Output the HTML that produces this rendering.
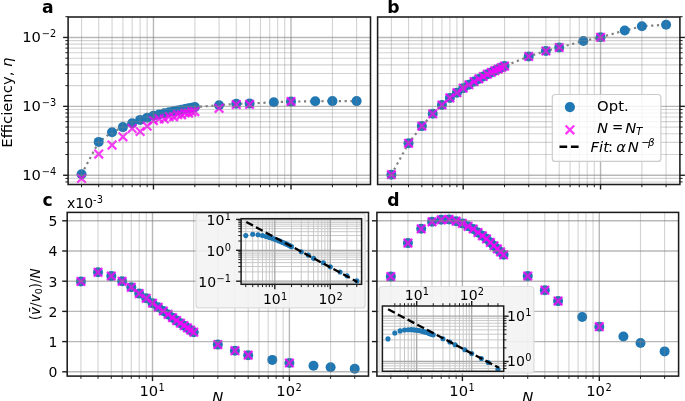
<!DOCTYPE html>
<html><head><meta charset="utf-8"><title>Figure</title>
<style>html,body{margin:0;padding:0;background:#fff}svg{display:block;filter:blur(0.35px)}</style></head>
<body>
<svg width="685" height="401" viewBox="0 0 685 401" font-family="'DejaVu Sans','Liberation Sans',sans-serif" fill="#000">
<rect width="685" height="401" fill="#fff"/>
<clipPath id="cla"><rect x="68.1" y="17.0" width="302.4" height="167.5"/></clipPath>
<g clip-path="url(#cla)">
<path d="M81.53 174.30L98.71 141.90L112.04 132.30L122.93 127.10L132.14 123.30L140.12 119.90L147.16 117.70L153.45 115.70L159.14 114.45L164.34 113.30L169.12 112.26L173.55 111.30L177.67 110.40L181.53 109.66L185.15 108.96L188.56 108.31L191.79 107.69L194.86 107.10L219.08 105.20L236.26 103.80L249.59 103.60L273.81 102.20L291.00 101.60L315.22 101.30L332.41 101.10L356.63 101.10" fill="none" stroke="#808080" stroke-width="2.2" stroke-dasharray="2.2 3.6"/>
<circle cx="81.53" cy="174.30" r="5.0" fill="#1f77b4"/>
<circle cx="98.71" cy="141.90" r="5.0" fill="#1f77b4"/>
<circle cx="112.04" cy="132.30" r="5.0" fill="#1f77b4"/>
<circle cx="122.93" cy="127.10" r="5.0" fill="#1f77b4"/>
<circle cx="132.14" cy="123.30" r="5.0" fill="#1f77b4"/>
<circle cx="140.12" cy="119.90" r="5.0" fill="#1f77b4"/>
<circle cx="147.16" cy="117.70" r="5.0" fill="#1f77b4"/>
<circle cx="153.45" cy="115.70" r="5.0" fill="#1f77b4"/>
<circle cx="159.14" cy="114.45" r="5.0" fill="#1f77b4"/>
<circle cx="164.34" cy="113.30" r="5.0" fill="#1f77b4"/>
<circle cx="169.12" cy="112.26" r="5.0" fill="#1f77b4"/>
<circle cx="173.55" cy="111.30" r="5.0" fill="#1f77b4"/>
<circle cx="177.67" cy="110.40" r="5.0" fill="#1f77b4"/>
<circle cx="181.53" cy="109.66" r="5.0" fill="#1f77b4"/>
<circle cx="185.15" cy="108.96" r="5.0" fill="#1f77b4"/>
<circle cx="188.56" cy="108.31" r="5.0" fill="#1f77b4"/>
<circle cx="191.79" cy="107.69" r="5.0" fill="#1f77b4"/>
<circle cx="194.86" cy="107.10" r="5.0" fill="#1f77b4"/>
<circle cx="219.08" cy="105.20" r="5.0" fill="#1f77b4"/>
<circle cx="236.26" cy="103.80" r="5.0" fill="#1f77b4"/>
<circle cx="249.59" cy="103.60" r="5.0" fill="#1f77b4"/>
<circle cx="273.81" cy="102.20" r="5.0" fill="#1f77b4"/>
<circle cx="291.00" cy="101.60" r="5.0" fill="#1f77b4"/>
<circle cx="315.22" cy="101.30" r="5.0" fill="#1f77b4"/>
<circle cx="332.41" cy="101.10" r="5.0" fill="#1f77b4"/>
<circle cx="356.63" cy="101.10" r="5.0" fill="#1f77b4"/>
<path d="M77.23 174.20L85.83 182.80M77.23 182.80L85.83 174.20" stroke="#ff00ff" stroke-width="2.3" stroke-opacity="0.78" fill="none"/>
<path d="M94.41 149.80L103.01 158.40M94.41 158.40L103.01 149.80" stroke="#ff00ff" stroke-width="2.3" stroke-opacity="0.78" fill="none"/>
<path d="M107.74 140.80L116.34 149.40M107.74 149.40L116.34 140.80" stroke="#ff00ff" stroke-width="2.3" stroke-opacity="0.78" fill="none"/>
<path d="M118.63 132.50L127.23 141.10M118.63 141.10L127.23 132.50" stroke="#ff00ff" stroke-width="2.3" stroke-opacity="0.78" fill="none"/>
<path d="M127.84 124.20L136.44 132.80M127.84 132.80L136.44 124.20" stroke="#ff00ff" stroke-width="2.3" stroke-opacity="0.78" fill="none"/>
<path d="M135.82 127.20L144.42 135.80M135.82 135.80L144.42 127.20" stroke="#ff00ff" stroke-width="2.3" stroke-opacity="0.78" fill="none"/>
<path d="M142.86 121.90L151.46 130.50M142.86 130.50L151.46 121.90" stroke="#ff00ff" stroke-width="2.3" stroke-opacity="0.78" fill="none"/>
<path d="M149.15 116.30L157.75 124.90M149.15 124.90L157.75 116.30" stroke="#ff00ff" stroke-width="2.3" stroke-opacity="0.78" fill="none"/>
<path d="M154.84 114.50L163.44 123.10M154.84 123.10L163.44 114.50" stroke="#ff00ff" stroke-width="2.3" stroke-opacity="0.78" fill="none"/>
<path d="M160.04 114.70L168.64 123.30M160.04 123.30L168.64 114.70" stroke="#ff00ff" stroke-width="2.3" stroke-opacity="0.78" fill="none"/>
<path d="M164.82 112.30L173.42 120.90M164.82 120.90L173.42 112.30" stroke="#ff00ff" stroke-width="2.3" stroke-opacity="0.78" fill="none"/>
<path d="M169.25 112.50L177.85 121.10M169.25 121.10L177.85 112.50" stroke="#ff00ff" stroke-width="2.3" stroke-opacity="0.78" fill="none"/>
<path d="M173.37 110.30L181.97 118.90M173.37 118.90L181.97 110.30" stroke="#ff00ff" stroke-width="2.3" stroke-opacity="0.78" fill="none"/>
<path d="M177.23 110.50L185.83 119.10M177.23 119.10L185.83 110.50" stroke="#ff00ff" stroke-width="2.3" stroke-opacity="0.78" fill="none"/>
<path d="M180.85 108.70L189.45 117.30M180.85 117.30L189.45 108.70" stroke="#ff00ff" stroke-width="2.3" stroke-opacity="0.78" fill="none"/>
<path d="M184.26 108.90L192.86 117.50M184.26 117.50L192.86 108.90" stroke="#ff00ff" stroke-width="2.3" stroke-opacity="0.78" fill="none"/>
<path d="M187.49 107.50L196.09 116.10M187.49 116.10L196.09 107.50" stroke="#ff00ff" stroke-width="2.3" stroke-opacity="0.78" fill="none"/>
<path d="M190.56 107.30L199.16 115.90M190.56 115.90L199.16 107.30" stroke="#ff00ff" stroke-width="2.3" stroke-opacity="0.78" fill="none"/>
<path d="M214.78 104.00L223.38 112.60M214.78 112.60L223.38 104.00" stroke="#ff00ff" stroke-width="2.3" stroke-opacity="0.78" fill="none"/>
<path d="M231.96 100.30L240.56 108.90M231.96 108.90L240.56 100.30" stroke="#ff00ff" stroke-width="2.3" stroke-opacity="0.78" fill="none"/>
<path d="M245.29 100.10L253.89 108.70M245.29 108.70L253.89 100.10" stroke="#ff00ff" stroke-width="2.3" stroke-opacity="0.78" fill="none"/>
<path d="M286.70 97.30L295.30 105.90M286.70 105.90L295.30 97.30" stroke="#ff00ff" stroke-width="2.3" stroke-opacity="0.78" fill="none"/>
<line x1="81.53" y1="17.00" x2="81.53" y2="184.50" stroke="#808080" stroke-opacity="0.35" stroke-width="1.1" />
<line x1="98.71" y1="17.00" x2="98.71" y2="184.50" stroke="#808080" stroke-opacity="0.35" stroke-width="1.1" />
<line x1="112.04" y1="17.00" x2="112.04" y2="184.50" stroke="#808080" stroke-opacity="0.35" stroke-width="1.1" />
<line x1="122.93" y1="17.00" x2="122.93" y2="184.50" stroke="#808080" stroke-opacity="0.35" stroke-width="1.1" />
<line x1="132.14" y1="17.00" x2="132.14" y2="184.50" stroke="#808080" stroke-opacity="0.35" stroke-width="1.1" />
<line x1="140.12" y1="17.00" x2="140.12" y2="184.50" stroke="#808080" stroke-opacity="0.35" stroke-width="1.1" />
<line x1="147.16" y1="17.00" x2="147.16" y2="184.50" stroke="#808080" stroke-opacity="0.35" stroke-width="1.1" />
<line x1="194.86" y1="17.00" x2="194.86" y2="184.50" stroke="#808080" stroke-opacity="0.35" stroke-width="1.1" />
<line x1="219.08" y1="17.00" x2="219.08" y2="184.50" stroke="#808080" stroke-opacity="0.35" stroke-width="1.1" />
<line x1="236.26" y1="17.00" x2="236.26" y2="184.50" stroke="#808080" stroke-opacity="0.35" stroke-width="1.1" />
<line x1="249.59" y1="17.00" x2="249.59" y2="184.50" stroke="#808080" stroke-opacity="0.35" stroke-width="1.1" />
<line x1="260.48" y1="17.00" x2="260.48" y2="184.50" stroke="#808080" stroke-opacity="0.35" stroke-width="1.1" />
<line x1="269.69" y1="17.00" x2="269.69" y2="184.50" stroke="#808080" stroke-opacity="0.35" stroke-width="1.1" />
<line x1="277.67" y1="17.00" x2="277.67" y2="184.50" stroke="#808080" stroke-opacity="0.35" stroke-width="1.1" />
<line x1="284.71" y1="17.00" x2="284.71" y2="184.50" stroke="#808080" stroke-opacity="0.35" stroke-width="1.1" />
<line x1="332.41" y1="17.00" x2="332.41" y2="184.50" stroke="#808080" stroke-opacity="0.35" stroke-width="1.1" />
<line x1="356.63" y1="17.00" x2="356.63" y2="184.50" stroke="#808080" stroke-opacity="0.35" stroke-width="1.1" />
<line x1="153.45" y1="17.00" x2="153.45" y2="184.50" stroke="#808080" stroke-opacity="0.56" stroke-width="1.4" />
<line x1="291.00" y1="17.00" x2="291.00" y2="184.50" stroke="#808080" stroke-opacity="0.56" stroke-width="1.4" />
<line x1="68.10" y1="181.93" x2="370.50" y2="181.93" stroke="#808080" stroke-opacity="0.35" stroke-width="1.1" />
<line x1="68.10" y1="178.40" x2="370.50" y2="178.40" stroke="#808080" stroke-opacity="0.35" stroke-width="1.1" />
<line x1="68.10" y1="154.51" x2="370.50" y2="154.51" stroke="#808080" stroke-opacity="0.35" stroke-width="1.1" />
<line x1="68.10" y1="142.38" x2="370.50" y2="142.38" stroke="#808080" stroke-opacity="0.35" stroke-width="1.1" />
<line x1="68.10" y1="133.77" x2="370.50" y2="133.77" stroke="#808080" stroke-opacity="0.35" stroke-width="1.1" />
<line x1="68.10" y1="127.09" x2="370.50" y2="127.09" stroke="#808080" stroke-opacity="0.35" stroke-width="1.1" />
<line x1="68.10" y1="121.64" x2="370.50" y2="121.64" stroke="#808080" stroke-opacity="0.35" stroke-width="1.1" />
<line x1="68.10" y1="117.02" x2="370.50" y2="117.02" stroke="#808080" stroke-opacity="0.35" stroke-width="1.1" />
<line x1="68.10" y1="113.03" x2="370.50" y2="113.03" stroke="#808080" stroke-opacity="0.35" stroke-width="1.1" />
<line x1="68.10" y1="109.50" x2="370.50" y2="109.50" stroke="#808080" stroke-opacity="0.35" stroke-width="1.1" />
<line x1="68.10" y1="85.61" x2="370.50" y2="85.61" stroke="#808080" stroke-opacity="0.35" stroke-width="1.1" />
<line x1="68.10" y1="73.48" x2="370.50" y2="73.48" stroke="#808080" stroke-opacity="0.35" stroke-width="1.1" />
<line x1="68.10" y1="64.87" x2="370.50" y2="64.87" stroke="#808080" stroke-opacity="0.35" stroke-width="1.1" />
<line x1="68.10" y1="58.19" x2="370.50" y2="58.19" stroke="#808080" stroke-opacity="0.35" stroke-width="1.1" />
<line x1="68.10" y1="52.74" x2="370.50" y2="52.74" stroke="#808080" stroke-opacity="0.35" stroke-width="1.1" />
<line x1="68.10" y1="48.12" x2="370.50" y2="48.12" stroke="#808080" stroke-opacity="0.35" stroke-width="1.1" />
<line x1="68.10" y1="44.13" x2="370.50" y2="44.13" stroke="#808080" stroke-opacity="0.35" stroke-width="1.1" />
<line x1="68.10" y1="40.60" x2="370.50" y2="40.60" stroke="#808080" stroke-opacity="0.35" stroke-width="1.1" />
<line x1="68.10" y1="175.25" x2="370.50" y2="175.25" stroke="#808080" stroke-opacity="0.56" stroke-width="1.4" />
<line x1="68.10" y1="106.35" x2="370.50" y2="106.35" stroke="#808080" stroke-opacity="0.56" stroke-width="1.4" />
<line x1="68.10" y1="37.45" x2="370.50" y2="37.45" stroke="#808080" stroke-opacity="0.56" stroke-width="1.4" />
</g>
<clipPath id="clb"><rect x="377.6" y="17.0" width="302.29999999999995" height="167.5"/></clipPath>
<g clip-path="url(#clb)">
<path d="M391.38 174.70L408.54 143.30L421.85 126.10L432.73 113.80L441.92 105.00L449.89 97.90L456.92 92.70L463.20 88.20L468.89 84.75L474.08 81.60L478.85 78.95L483.27 76.49L487.39 74.20L491.24 72.38L494.85 70.68L498.26 69.07L501.49 67.54L504.55 66.10L528.73 56.40L545.89 51.00L559.20 47.50L583.39 41.00L600.55 37.30L624.74 30.50L641.90 26.30L666.08 24.70" fill="none" stroke="#808080" stroke-width="2.2" stroke-dasharray="2.2 3.6"/>
<circle cx="391.38" cy="174.70" r="5.0" fill="#1f77b4"/>
<circle cx="408.54" cy="143.30" r="5.0" fill="#1f77b4"/>
<circle cx="421.85" cy="126.10" r="5.0" fill="#1f77b4"/>
<circle cx="432.73" cy="113.80" r="5.0" fill="#1f77b4"/>
<circle cx="441.92" cy="105.00" r="5.0" fill="#1f77b4"/>
<circle cx="449.89" cy="97.90" r="5.0" fill="#1f77b4"/>
<circle cx="456.92" cy="92.70" r="5.0" fill="#1f77b4"/>
<circle cx="463.20" cy="88.20" r="5.0" fill="#1f77b4"/>
<circle cx="468.89" cy="84.75" r="5.0" fill="#1f77b4"/>
<circle cx="474.08" cy="81.60" r="5.0" fill="#1f77b4"/>
<circle cx="478.85" cy="78.95" r="5.0" fill="#1f77b4"/>
<circle cx="483.27" cy="76.49" r="5.0" fill="#1f77b4"/>
<circle cx="487.39" cy="74.20" r="5.0" fill="#1f77b4"/>
<circle cx="491.24" cy="72.38" r="5.0" fill="#1f77b4"/>
<circle cx="494.85" cy="70.68" r="5.0" fill="#1f77b4"/>
<circle cx="498.26" cy="69.07" r="5.0" fill="#1f77b4"/>
<circle cx="501.49" cy="67.54" r="5.0" fill="#1f77b4"/>
<circle cx="504.55" cy="66.10" r="5.0" fill="#1f77b4"/>
<circle cx="528.73" cy="56.40" r="5.0" fill="#1f77b4"/>
<circle cx="545.89" cy="51.00" r="5.0" fill="#1f77b4"/>
<circle cx="559.20" cy="47.50" r="5.0" fill="#1f77b4"/>
<circle cx="583.39" cy="41.00" r="5.0" fill="#1f77b4"/>
<circle cx="600.55" cy="37.30" r="5.0" fill="#1f77b4"/>
<circle cx="624.74" cy="30.50" r="5.0" fill="#1f77b4"/>
<circle cx="641.90" cy="26.30" r="5.0" fill="#1f77b4"/>
<circle cx="666.08" cy="24.70" r="5.0" fill="#1f77b4"/>
<path d="M387.08 170.40L395.68 179.00M387.08 179.00L395.68 170.40" stroke="#ff00ff" stroke-width="2.3" stroke-opacity="0.78" fill="none"/>
<path d="M404.24 139.00L412.84 147.60M404.24 147.60L412.84 139.00" stroke="#ff00ff" stroke-width="2.3" stroke-opacity="0.78" fill="none"/>
<path d="M417.55 121.80L426.15 130.40M417.55 130.40L426.15 121.80" stroke="#ff00ff" stroke-width="2.3" stroke-opacity="0.78" fill="none"/>
<path d="M428.43 109.50L437.03 118.10M428.43 118.10L437.03 109.50" stroke="#ff00ff" stroke-width="2.3" stroke-opacity="0.78" fill="none"/>
<path d="M437.62 100.70L446.22 109.30M437.62 109.30L446.22 100.70" stroke="#ff00ff" stroke-width="2.3" stroke-opacity="0.78" fill="none"/>
<path d="M445.59 93.60L454.19 102.20M445.59 102.20L454.19 93.60" stroke="#ff00ff" stroke-width="2.3" stroke-opacity="0.78" fill="none"/>
<path d="M452.62 88.40L461.22 97.00M452.62 97.00L461.22 88.40" stroke="#ff00ff" stroke-width="2.3" stroke-opacity="0.78" fill="none"/>
<path d="M458.90 83.90L467.50 92.50M458.90 92.50L467.50 83.90" stroke="#ff00ff" stroke-width="2.3" stroke-opacity="0.78" fill="none"/>
<path d="M464.59 80.45L473.19 89.05M464.59 89.05L473.19 80.45" stroke="#ff00ff" stroke-width="2.3" stroke-opacity="0.78" fill="none"/>
<path d="M469.78 77.30L478.38 85.90M469.78 85.90L478.38 77.30" stroke="#ff00ff" stroke-width="2.3" stroke-opacity="0.78" fill="none"/>
<path d="M474.55 74.65L483.15 83.25M474.55 83.25L483.15 74.65" stroke="#ff00ff" stroke-width="2.3" stroke-opacity="0.78" fill="none"/>
<path d="M478.97 72.19L487.57 80.79M478.97 80.79L487.57 72.19" stroke="#ff00ff" stroke-width="2.3" stroke-opacity="0.78" fill="none"/>
<path d="M483.09 69.90L491.69 78.50M483.09 78.50L491.69 69.90" stroke="#ff00ff" stroke-width="2.3" stroke-opacity="0.78" fill="none"/>
<path d="M486.94 68.08L495.54 76.68M486.94 76.68L495.54 68.08" stroke="#ff00ff" stroke-width="2.3" stroke-opacity="0.78" fill="none"/>
<path d="M490.55 66.38L499.15 74.98M490.55 74.98L499.15 66.38" stroke="#ff00ff" stroke-width="2.3" stroke-opacity="0.78" fill="none"/>
<path d="M493.96 64.77L502.56 73.37M493.96 73.37L502.56 64.77" stroke="#ff00ff" stroke-width="2.3" stroke-opacity="0.78" fill="none"/>
<path d="M497.19 63.24L505.79 71.84M497.19 71.84L505.79 63.24" stroke="#ff00ff" stroke-width="2.3" stroke-opacity="0.78" fill="none"/>
<path d="M500.25 61.80L508.85 70.40M500.25 70.40L508.85 61.80" stroke="#ff00ff" stroke-width="2.3" stroke-opacity="0.78" fill="none"/>
<path d="M524.43 52.10L533.03 60.70M524.43 60.70L533.03 52.10" stroke="#ff00ff" stroke-width="2.3" stroke-opacity="0.78" fill="none"/>
<path d="M541.59 46.70L550.19 55.30M541.59 55.30L550.19 46.70" stroke="#ff00ff" stroke-width="2.3" stroke-opacity="0.78" fill="none"/>
<path d="M554.90 43.20L563.50 51.80M554.90 51.80L563.50 43.20" stroke="#ff00ff" stroke-width="2.3" stroke-opacity="0.78" fill="none"/>
<path d="M596.25 33.00L604.85 41.60M596.25 41.60L604.85 33.00" stroke="#ff00ff" stroke-width="2.3" stroke-opacity="0.78" fill="none"/>
<line x1="391.38" y1="17.00" x2="391.38" y2="184.50" stroke="#808080" stroke-opacity="0.35" stroke-width="1.1" />
<line x1="408.54" y1="17.00" x2="408.54" y2="184.50" stroke="#808080" stroke-opacity="0.35" stroke-width="1.1" />
<line x1="421.85" y1="17.00" x2="421.85" y2="184.50" stroke="#808080" stroke-opacity="0.35" stroke-width="1.1" />
<line x1="432.73" y1="17.00" x2="432.73" y2="184.50" stroke="#808080" stroke-opacity="0.35" stroke-width="1.1" />
<line x1="441.92" y1="17.00" x2="441.92" y2="184.50" stroke="#808080" stroke-opacity="0.35" stroke-width="1.1" />
<line x1="449.89" y1="17.00" x2="449.89" y2="184.50" stroke="#808080" stroke-opacity="0.35" stroke-width="1.1" />
<line x1="456.92" y1="17.00" x2="456.92" y2="184.50" stroke="#808080" stroke-opacity="0.35" stroke-width="1.1" />
<line x1="504.55" y1="17.00" x2="504.55" y2="184.50" stroke="#808080" stroke-opacity="0.35" stroke-width="1.1" />
<line x1="528.73" y1="17.00" x2="528.73" y2="184.50" stroke="#808080" stroke-opacity="0.35" stroke-width="1.1" />
<line x1="545.89" y1="17.00" x2="545.89" y2="184.50" stroke="#808080" stroke-opacity="0.35" stroke-width="1.1" />
<line x1="559.20" y1="17.00" x2="559.20" y2="184.50" stroke="#808080" stroke-opacity="0.35" stroke-width="1.1" />
<line x1="570.08" y1="17.00" x2="570.08" y2="184.50" stroke="#808080" stroke-opacity="0.35" stroke-width="1.1" />
<line x1="579.27" y1="17.00" x2="579.27" y2="184.50" stroke="#808080" stroke-opacity="0.35" stroke-width="1.1" />
<line x1="587.24" y1="17.00" x2="587.24" y2="184.50" stroke="#808080" stroke-opacity="0.35" stroke-width="1.1" />
<line x1="594.27" y1="17.00" x2="594.27" y2="184.50" stroke="#808080" stroke-opacity="0.35" stroke-width="1.1" />
<line x1="641.90" y1="17.00" x2="641.90" y2="184.50" stroke="#808080" stroke-opacity="0.35" stroke-width="1.1" />
<line x1="666.08" y1="17.00" x2="666.08" y2="184.50" stroke="#808080" stroke-opacity="0.35" stroke-width="1.1" />
<line x1="463.20" y1="17.00" x2="463.20" y2="184.50" stroke="#808080" stroke-opacity="0.56" stroke-width="1.4" />
<line x1="600.55" y1="17.00" x2="600.55" y2="184.50" stroke="#808080" stroke-opacity="0.56" stroke-width="1.4" />
<line x1="377.60" y1="181.93" x2="679.90" y2="181.93" stroke="#808080" stroke-opacity="0.35" stroke-width="1.1" />
<line x1="377.60" y1="178.40" x2="679.90" y2="178.40" stroke="#808080" stroke-opacity="0.35" stroke-width="1.1" />
<line x1="377.60" y1="154.51" x2="679.90" y2="154.51" stroke="#808080" stroke-opacity="0.35" stroke-width="1.1" />
<line x1="377.60" y1="142.38" x2="679.90" y2="142.38" stroke="#808080" stroke-opacity="0.35" stroke-width="1.1" />
<line x1="377.60" y1="133.77" x2="679.90" y2="133.77" stroke="#808080" stroke-opacity="0.35" stroke-width="1.1" />
<line x1="377.60" y1="127.09" x2="679.90" y2="127.09" stroke="#808080" stroke-opacity="0.35" stroke-width="1.1" />
<line x1="377.60" y1="121.64" x2="679.90" y2="121.64" stroke="#808080" stroke-opacity="0.35" stroke-width="1.1" />
<line x1="377.60" y1="117.02" x2="679.90" y2="117.02" stroke="#808080" stroke-opacity="0.35" stroke-width="1.1" />
<line x1="377.60" y1="113.03" x2="679.90" y2="113.03" stroke="#808080" stroke-opacity="0.35" stroke-width="1.1" />
<line x1="377.60" y1="109.50" x2="679.90" y2="109.50" stroke="#808080" stroke-opacity="0.35" stroke-width="1.1" />
<line x1="377.60" y1="85.61" x2="679.90" y2="85.61" stroke="#808080" stroke-opacity="0.35" stroke-width="1.1" />
<line x1="377.60" y1="73.48" x2="679.90" y2="73.48" stroke="#808080" stroke-opacity="0.35" stroke-width="1.1" />
<line x1="377.60" y1="64.87" x2="679.90" y2="64.87" stroke="#808080" stroke-opacity="0.35" stroke-width="1.1" />
<line x1="377.60" y1="58.19" x2="679.90" y2="58.19" stroke="#808080" stroke-opacity="0.35" stroke-width="1.1" />
<line x1="377.60" y1="52.74" x2="679.90" y2="52.74" stroke="#808080" stroke-opacity="0.35" stroke-width="1.1" />
<line x1="377.60" y1="48.12" x2="679.90" y2="48.12" stroke="#808080" stroke-opacity="0.35" stroke-width="1.1" />
<line x1="377.60" y1="44.13" x2="679.90" y2="44.13" stroke="#808080" stroke-opacity="0.35" stroke-width="1.1" />
<line x1="377.60" y1="40.60" x2="679.90" y2="40.60" stroke="#808080" stroke-opacity="0.35" stroke-width="1.1" />
<line x1="377.60" y1="175.25" x2="679.90" y2="175.25" stroke="#808080" stroke-opacity="0.56" stroke-width="1.4" />
<line x1="377.60" y1="106.35" x2="679.90" y2="106.35" stroke="#808080" stroke-opacity="0.56" stroke-width="1.4" />
<line x1="377.60" y1="37.45" x2="679.90" y2="37.45" stroke="#808080" stroke-opacity="0.56" stroke-width="1.4" />
</g>
<clipPath id="clc"><rect x="67.2" y="212.4" width="301.3" height="163.70000000000002"/></clipPath>
<g clip-path="url(#clc)">
<circle cx="80.92" cy="281.50" r="5.0" fill="#1f77b4"/>
<circle cx="98.02" cy="272.30" r="5.0" fill="#1f77b4"/>
<circle cx="111.29" cy="276.10" r="5.0" fill="#1f77b4"/>
<circle cx="122.13" cy="281.30" r="5.0" fill="#1f77b4"/>
<circle cx="131.29" cy="287.30" r="5.0" fill="#1f77b4"/>
<circle cx="139.23" cy="293.60" r="5.0" fill="#1f77b4"/>
<circle cx="146.24" cy="298.30" r="5.0" fill="#1f77b4"/>
<circle cx="152.50" cy="303.20" r="5.0" fill="#1f77b4"/>
<circle cx="158.17" cy="307.28" r="5.0" fill="#1f77b4"/>
<circle cx="163.34" cy="311.00" r="5.0" fill="#1f77b4"/>
<circle cx="168.10" cy="314.44" r="5.0" fill="#1f77b4"/>
<circle cx="172.50" cy="317.63" r="5.0" fill="#1f77b4"/>
<circle cx="176.61" cy="320.60" r="5.0" fill="#1f77b4"/>
<circle cx="180.44" cy="323.20" r="5.0" fill="#1f77b4"/>
<circle cx="184.05" cy="325.65" r="5.0" fill="#1f77b4"/>
<circle cx="187.45" cy="327.95" r="5.0" fill="#1f77b4"/>
<circle cx="190.66" cy="330.13" r="5.0" fill="#1f77b4"/>
<circle cx="193.71" cy="332.20" r="5.0" fill="#1f77b4"/>
<circle cx="217.82" cy="344.60" r="5.0" fill="#1f77b4"/>
<circle cx="234.92" cy="350.70" r="5.0" fill="#1f77b4"/>
<circle cx="248.19" cy="355.20" r="5.0" fill="#1f77b4"/>
<circle cx="272.30" cy="359.90" r="5.0" fill="#1f77b4"/>
<circle cx="289.40" cy="363.00" r="5.0" fill="#1f77b4"/>
<circle cx="313.51" cy="365.80" r="5.0" fill="#1f77b4"/>
<circle cx="330.61" cy="367.30" r="5.0" fill="#1f77b4"/>
<circle cx="354.72" cy="368.70" r="5.0" fill="#1f77b4"/>
<path d="M76.62 277.20L85.22 285.80M76.62 285.80L85.22 277.20" stroke="#ff00ff" stroke-width="2.3" stroke-opacity="0.78" fill="none"/>
<path d="M93.72 268.00L102.32 276.60M93.72 276.60L102.32 268.00" stroke="#ff00ff" stroke-width="2.3" stroke-opacity="0.78" fill="none"/>
<path d="M106.99 271.80L115.59 280.40M106.99 280.40L115.59 271.80" stroke="#ff00ff" stroke-width="2.3" stroke-opacity="0.78" fill="none"/>
<path d="M117.83 277.00L126.43 285.60M117.83 285.60L126.43 277.00" stroke="#ff00ff" stroke-width="2.3" stroke-opacity="0.78" fill="none"/>
<path d="M126.99 283.00L135.59 291.60M126.99 291.60L135.59 283.00" stroke="#ff00ff" stroke-width="2.3" stroke-opacity="0.78" fill="none"/>
<path d="M134.93 289.30L143.53 297.90M134.93 297.90L143.53 289.30" stroke="#ff00ff" stroke-width="2.3" stroke-opacity="0.78" fill="none"/>
<path d="M141.94 294.00L150.54 302.60M141.94 302.60L150.54 294.00" stroke="#ff00ff" stroke-width="2.3" stroke-opacity="0.78" fill="none"/>
<path d="M148.20 298.90L156.80 307.50M148.20 307.50L156.80 298.90" stroke="#ff00ff" stroke-width="2.3" stroke-opacity="0.78" fill="none"/>
<path d="M153.87 302.98L162.47 311.58M153.87 311.58L162.47 302.98" stroke="#ff00ff" stroke-width="2.3" stroke-opacity="0.78" fill="none"/>
<path d="M159.04 306.70L167.64 315.30M159.04 315.30L167.64 306.70" stroke="#ff00ff" stroke-width="2.3" stroke-opacity="0.78" fill="none"/>
<path d="M163.80 310.14L172.40 318.74M163.80 318.74L172.40 310.14" stroke="#ff00ff" stroke-width="2.3" stroke-opacity="0.78" fill="none"/>
<path d="M168.20 313.33L176.80 321.93M168.20 321.93L176.80 313.33" stroke="#ff00ff" stroke-width="2.3" stroke-opacity="0.78" fill="none"/>
<path d="M172.31 316.30L180.91 324.90M172.31 324.90L180.91 316.30" stroke="#ff00ff" stroke-width="2.3" stroke-opacity="0.78" fill="none"/>
<path d="M176.14 318.90L184.74 327.50M176.14 327.50L184.74 318.90" stroke="#ff00ff" stroke-width="2.3" stroke-opacity="0.78" fill="none"/>
<path d="M179.75 321.35L188.35 329.95M179.75 329.95L188.35 321.35" stroke="#ff00ff" stroke-width="2.3" stroke-opacity="0.78" fill="none"/>
<path d="M183.15 323.65L191.75 332.25M183.15 332.25L191.75 323.65" stroke="#ff00ff" stroke-width="2.3" stroke-opacity="0.78" fill="none"/>
<path d="M186.36 325.83L194.96 334.43M186.36 334.43L194.96 325.83" stroke="#ff00ff" stroke-width="2.3" stroke-opacity="0.78" fill="none"/>
<path d="M189.41 327.90L198.01 336.50M189.41 336.50L198.01 327.90" stroke="#ff00ff" stroke-width="2.3" stroke-opacity="0.78" fill="none"/>
<path d="M213.52 340.30L222.12 348.90M213.52 348.90L222.12 340.30" stroke="#ff00ff" stroke-width="2.3" stroke-opacity="0.78" fill="none"/>
<path d="M230.62 346.40L239.22 355.00M230.62 355.00L239.22 346.40" stroke="#ff00ff" stroke-width="2.3" stroke-opacity="0.78" fill="none"/>
<path d="M243.89 350.90L252.49 359.50M243.89 359.50L252.49 350.90" stroke="#ff00ff" stroke-width="2.3" stroke-opacity="0.78" fill="none"/>
<path d="M285.10 358.70L293.70 367.30M285.10 367.30L293.70 358.70" stroke="#ff00ff" stroke-width="2.3" stroke-opacity="0.78" fill="none"/>
<line x1="80.92" y1="212.40" x2="80.92" y2="376.10" stroke="#808080" stroke-opacity="0.35" stroke-width="1.1" />
<line x1="98.02" y1="212.40" x2="98.02" y2="376.10" stroke="#808080" stroke-opacity="0.35" stroke-width="1.1" />
<line x1="111.29" y1="212.40" x2="111.29" y2="376.10" stroke="#808080" stroke-opacity="0.35" stroke-width="1.1" />
<line x1="122.13" y1="212.40" x2="122.13" y2="376.10" stroke="#808080" stroke-opacity="0.35" stroke-width="1.1" />
<line x1="131.29" y1="212.40" x2="131.29" y2="376.10" stroke="#808080" stroke-opacity="0.35" stroke-width="1.1" />
<line x1="139.23" y1="212.40" x2="139.23" y2="376.10" stroke="#808080" stroke-opacity="0.35" stroke-width="1.1" />
<line x1="146.24" y1="212.40" x2="146.24" y2="376.10" stroke="#808080" stroke-opacity="0.35" stroke-width="1.1" />
<line x1="193.71" y1="212.40" x2="193.71" y2="376.10" stroke="#808080" stroke-opacity="0.35" stroke-width="1.1" />
<line x1="217.82" y1="212.40" x2="217.82" y2="376.10" stroke="#808080" stroke-opacity="0.35" stroke-width="1.1" />
<line x1="234.92" y1="212.40" x2="234.92" y2="376.10" stroke="#808080" stroke-opacity="0.35" stroke-width="1.1" />
<line x1="248.19" y1="212.40" x2="248.19" y2="376.10" stroke="#808080" stroke-opacity="0.35" stroke-width="1.1" />
<line x1="259.03" y1="212.40" x2="259.03" y2="376.10" stroke="#808080" stroke-opacity="0.35" stroke-width="1.1" />
<line x1="268.19" y1="212.40" x2="268.19" y2="376.10" stroke="#808080" stroke-opacity="0.35" stroke-width="1.1" />
<line x1="276.13" y1="212.40" x2="276.13" y2="376.10" stroke="#808080" stroke-opacity="0.35" stroke-width="1.1" />
<line x1="283.14" y1="212.40" x2="283.14" y2="376.10" stroke="#808080" stroke-opacity="0.35" stroke-width="1.1" />
<line x1="330.61" y1="212.40" x2="330.61" y2="376.10" stroke="#808080" stroke-opacity="0.35" stroke-width="1.1" />
<line x1="354.72" y1="212.40" x2="354.72" y2="376.10" stroke="#808080" stroke-opacity="0.35" stroke-width="1.1" />
<line x1="152.50" y1="212.40" x2="152.50" y2="376.10" stroke="#808080" stroke-opacity="0.56" stroke-width="1.4" />
<line x1="289.40" y1="212.40" x2="289.40" y2="376.10" stroke="#808080" stroke-opacity="0.56" stroke-width="1.4" />
<line x1="67.20" y1="371.80" x2="368.50" y2="371.80" stroke="#808080" stroke-opacity="0.56" stroke-width="1.4" />
<line x1="67.20" y1="341.60" x2="368.50" y2="341.60" stroke="#808080" stroke-opacity="0.56" stroke-width="1.4" />
<line x1="67.20" y1="311.40" x2="368.50" y2="311.40" stroke="#808080" stroke-opacity="0.56" stroke-width="1.4" />
<line x1="67.20" y1="281.20" x2="368.50" y2="281.20" stroke="#808080" stroke-opacity="0.56" stroke-width="1.4" />
<line x1="67.20" y1="251.00" x2="368.50" y2="251.00" stroke="#808080" stroke-opacity="0.56" stroke-width="1.4" />
<line x1="67.20" y1="220.80" x2="368.50" y2="220.80" stroke="#808080" stroke-opacity="0.56" stroke-width="1.4" />
</g>
<clipPath id="cld"><rect x="376.9" y="212.4" width="301.70000000000005" height="163.70000000000002"/></clipPath>
<g clip-path="url(#cld)">
<circle cx="390.82" cy="276.60" r="5.0" fill="#1f77b4"/>
<circle cx="407.92" cy="243.10" r="5.0" fill="#1f77b4"/>
<circle cx="421.19" cy="228.80" r="5.0" fill="#1f77b4"/>
<circle cx="432.03" cy="221.80" r="5.0" fill="#1f77b4"/>
<circle cx="441.19" cy="219.80" r="5.0" fill="#1f77b4"/>
<circle cx="449.13" cy="219.40" r="5.0" fill="#1f77b4"/>
<circle cx="456.14" cy="221.20" r="5.0" fill="#1f77b4"/>
<circle cx="462.40" cy="223.40" r="5.0" fill="#1f77b4"/>
<circle cx="468.07" cy="226.33" r="5.0" fill="#1f77b4"/>
<circle cx="473.24" cy="229.00" r="5.0" fill="#1f77b4"/>
<circle cx="478.00" cy="232.52" r="5.0" fill="#1f77b4"/>
<circle cx="482.40" cy="235.77" r="5.0" fill="#1f77b4"/>
<circle cx="486.51" cy="238.80" r="5.0" fill="#1f77b4"/>
<circle cx="490.34" cy="242.39" r="5.0" fill="#1f77b4"/>
<circle cx="493.95" cy="245.76" r="5.0" fill="#1f77b4"/>
<circle cx="497.35" cy="248.94" r="5.0" fill="#1f77b4"/>
<circle cx="500.56" cy="251.95" r="5.0" fill="#1f77b4"/>
<circle cx="503.61" cy="254.80" r="5.0" fill="#1f77b4"/>
<circle cx="527.72" cy="276.10" r="5.0" fill="#1f77b4"/>
<circle cx="544.82" cy="290.20" r="5.0" fill="#1f77b4"/>
<circle cx="558.09" cy="301.10" r="5.0" fill="#1f77b4"/>
<circle cx="582.20" cy="317.00" r="5.0" fill="#1f77b4"/>
<circle cx="599.30" cy="326.70" r="5.0" fill="#1f77b4"/>
<circle cx="623.41" cy="336.50" r="5.0" fill="#1f77b4"/>
<circle cx="640.51" cy="343.00" r="5.0" fill="#1f77b4"/>
<circle cx="664.62" cy="351.40" r="5.0" fill="#1f77b4"/>
<path d="M386.52 272.30L395.12 280.90M386.52 280.90L395.12 272.30" stroke="#ff00ff" stroke-width="2.3" stroke-opacity="0.78" fill="none"/>
<path d="M403.62 238.80L412.22 247.40M403.62 247.40L412.22 238.80" stroke="#ff00ff" stroke-width="2.3" stroke-opacity="0.78" fill="none"/>
<path d="M416.89 224.50L425.49 233.10M416.89 233.10L425.49 224.50" stroke="#ff00ff" stroke-width="2.3" stroke-opacity="0.78" fill="none"/>
<path d="M427.73 217.50L436.33 226.10M427.73 226.10L436.33 217.50" stroke="#ff00ff" stroke-width="2.3" stroke-opacity="0.78" fill="none"/>
<path d="M436.89 215.50L445.49 224.10M436.89 224.10L445.49 215.50" stroke="#ff00ff" stroke-width="2.3" stroke-opacity="0.78" fill="none"/>
<path d="M444.83 215.10L453.43 223.70M444.83 223.70L453.43 215.10" stroke="#ff00ff" stroke-width="2.3" stroke-opacity="0.78" fill="none"/>
<path d="M451.84 216.90L460.44 225.50M451.84 225.50L460.44 216.90" stroke="#ff00ff" stroke-width="2.3" stroke-opacity="0.78" fill="none"/>
<path d="M458.10 219.10L466.70 227.70M458.10 227.70L466.70 219.10" stroke="#ff00ff" stroke-width="2.3" stroke-opacity="0.78" fill="none"/>
<path d="M463.77 222.03L472.37 230.63M463.77 230.63L472.37 222.03" stroke="#ff00ff" stroke-width="2.3" stroke-opacity="0.78" fill="none"/>
<path d="M468.94 224.70L477.54 233.30M468.94 233.30L477.54 224.70" stroke="#ff00ff" stroke-width="2.3" stroke-opacity="0.78" fill="none"/>
<path d="M473.70 228.22L482.30 236.82M473.70 236.82L482.30 228.22" stroke="#ff00ff" stroke-width="2.3" stroke-opacity="0.78" fill="none"/>
<path d="M478.10 231.47L486.70 240.07M478.10 240.07L486.70 231.47" stroke="#ff00ff" stroke-width="2.3" stroke-opacity="0.78" fill="none"/>
<path d="M482.21 234.50L490.81 243.10M482.21 243.10L490.81 234.50" stroke="#ff00ff" stroke-width="2.3" stroke-opacity="0.78" fill="none"/>
<path d="M486.04 238.09L494.64 246.69M486.04 246.69L494.64 238.09" stroke="#ff00ff" stroke-width="2.3" stroke-opacity="0.78" fill="none"/>
<path d="M489.65 241.46L498.25 250.06M489.65 250.06L498.25 241.46" stroke="#ff00ff" stroke-width="2.3" stroke-opacity="0.78" fill="none"/>
<path d="M493.05 244.64L501.65 253.24M493.05 253.24L501.65 244.64" stroke="#ff00ff" stroke-width="2.3" stroke-opacity="0.78" fill="none"/>
<path d="M496.26 247.65L504.86 256.25M496.26 256.25L504.86 247.65" stroke="#ff00ff" stroke-width="2.3" stroke-opacity="0.78" fill="none"/>
<path d="M499.31 250.50L507.91 259.10M499.31 259.10L507.91 250.50" stroke="#ff00ff" stroke-width="2.3" stroke-opacity="0.78" fill="none"/>
<path d="M523.42 271.80L532.02 280.40M523.42 280.40L532.02 271.80" stroke="#ff00ff" stroke-width="2.3" stroke-opacity="0.78" fill="none"/>
<path d="M540.52 285.90L549.12 294.50M540.52 294.50L549.12 285.90" stroke="#ff00ff" stroke-width="2.3" stroke-opacity="0.78" fill="none"/>
<path d="M553.79 296.80L562.39 305.40M553.79 305.40L562.39 296.80" stroke="#ff00ff" stroke-width="2.3" stroke-opacity="0.78" fill="none"/>
<path d="M595.00 322.40L603.60 331.00M595.00 331.00L603.60 322.40" stroke="#ff00ff" stroke-width="2.3" stroke-opacity="0.78" fill="none"/>
<line x1="390.82" y1="212.40" x2="390.82" y2="376.10" stroke="#808080" stroke-opacity="0.35" stroke-width="1.1" />
<line x1="407.92" y1="212.40" x2="407.92" y2="376.10" stroke="#808080" stroke-opacity="0.35" stroke-width="1.1" />
<line x1="421.19" y1="212.40" x2="421.19" y2="376.10" stroke="#808080" stroke-opacity="0.35" stroke-width="1.1" />
<line x1="432.03" y1="212.40" x2="432.03" y2="376.10" stroke="#808080" stroke-opacity="0.35" stroke-width="1.1" />
<line x1="441.19" y1="212.40" x2="441.19" y2="376.10" stroke="#808080" stroke-opacity="0.35" stroke-width="1.1" />
<line x1="449.13" y1="212.40" x2="449.13" y2="376.10" stroke="#808080" stroke-opacity="0.35" stroke-width="1.1" />
<line x1="456.14" y1="212.40" x2="456.14" y2="376.10" stroke="#808080" stroke-opacity="0.35" stroke-width="1.1" />
<line x1="503.61" y1="212.40" x2="503.61" y2="376.10" stroke="#808080" stroke-opacity="0.35" stroke-width="1.1" />
<line x1="527.72" y1="212.40" x2="527.72" y2="376.10" stroke="#808080" stroke-opacity="0.35" stroke-width="1.1" />
<line x1="544.82" y1="212.40" x2="544.82" y2="376.10" stroke="#808080" stroke-opacity="0.35" stroke-width="1.1" />
<line x1="558.09" y1="212.40" x2="558.09" y2="376.10" stroke="#808080" stroke-opacity="0.35" stroke-width="1.1" />
<line x1="568.93" y1="212.40" x2="568.93" y2="376.10" stroke="#808080" stroke-opacity="0.35" stroke-width="1.1" />
<line x1="578.09" y1="212.40" x2="578.09" y2="376.10" stroke="#808080" stroke-opacity="0.35" stroke-width="1.1" />
<line x1="586.03" y1="212.40" x2="586.03" y2="376.10" stroke="#808080" stroke-opacity="0.35" stroke-width="1.1" />
<line x1="593.04" y1="212.40" x2="593.04" y2="376.10" stroke="#808080" stroke-opacity="0.35" stroke-width="1.1" />
<line x1="640.51" y1="212.40" x2="640.51" y2="376.10" stroke="#808080" stroke-opacity="0.35" stroke-width="1.1" />
<line x1="664.62" y1="212.40" x2="664.62" y2="376.10" stroke="#808080" stroke-opacity="0.35" stroke-width="1.1" />
<line x1="462.40" y1="212.40" x2="462.40" y2="376.10" stroke="#808080" stroke-opacity="0.56" stroke-width="1.4" />
<line x1="599.30" y1="212.40" x2="599.30" y2="376.10" stroke="#808080" stroke-opacity="0.56" stroke-width="1.4" />
<line x1="376.90" y1="371.80" x2="678.60" y2="371.80" stroke="#808080" stroke-opacity="0.56" stroke-width="1.4" />
<line x1="376.90" y1="341.60" x2="678.60" y2="341.60" stroke="#808080" stroke-opacity="0.56" stroke-width="1.4" />
<line x1="376.90" y1="311.40" x2="678.60" y2="311.40" stroke="#808080" stroke-opacity="0.56" stroke-width="1.4" />
<line x1="376.90" y1="281.20" x2="678.60" y2="281.20" stroke="#808080" stroke-opacity="0.56" stroke-width="1.4" />
<line x1="376.90" y1="251.00" x2="678.60" y2="251.00" stroke="#808080" stroke-opacity="0.56" stroke-width="1.4" />
<line x1="376.90" y1="220.80" x2="678.60" y2="220.80" stroke="#808080" stroke-opacity="0.56" stroke-width="1.4" />
</g>
<line x1="81.53" y1="184.50" x2="81.53" y2="187.20" stroke="#1c1c1c" stroke-width="1.0" />
<line x1="98.71" y1="184.50" x2="98.71" y2="187.20" stroke="#1c1c1c" stroke-width="1.0" />
<line x1="112.04" y1="184.50" x2="112.04" y2="187.20" stroke="#1c1c1c" stroke-width="1.0" />
<line x1="122.93" y1="184.50" x2="122.93" y2="187.20" stroke="#1c1c1c" stroke-width="1.0" />
<line x1="132.14" y1="184.50" x2="132.14" y2="187.20" stroke="#1c1c1c" stroke-width="1.0" />
<line x1="140.12" y1="184.50" x2="140.12" y2="187.20" stroke="#1c1c1c" stroke-width="1.0" />
<line x1="147.16" y1="184.50" x2="147.16" y2="187.20" stroke="#1c1c1c" stroke-width="1.0" />
<line x1="194.86" y1="184.50" x2="194.86" y2="187.20" stroke="#1c1c1c" stroke-width="1.0" />
<line x1="219.08" y1="184.50" x2="219.08" y2="187.20" stroke="#1c1c1c" stroke-width="1.0" />
<line x1="236.26" y1="184.50" x2="236.26" y2="187.20" stroke="#1c1c1c" stroke-width="1.0" />
<line x1="249.59" y1="184.50" x2="249.59" y2="187.20" stroke="#1c1c1c" stroke-width="1.0" />
<line x1="260.48" y1="184.50" x2="260.48" y2="187.20" stroke="#1c1c1c" stroke-width="1.0" />
<line x1="269.69" y1="184.50" x2="269.69" y2="187.20" stroke="#1c1c1c" stroke-width="1.0" />
<line x1="277.67" y1="184.50" x2="277.67" y2="187.20" stroke="#1c1c1c" stroke-width="1.0" />
<line x1="284.71" y1="184.50" x2="284.71" y2="187.20" stroke="#1c1c1c" stroke-width="1.0" />
<line x1="332.41" y1="184.50" x2="332.41" y2="187.20" stroke="#1c1c1c" stroke-width="1.0" />
<line x1="356.63" y1="184.50" x2="356.63" y2="187.20" stroke="#1c1c1c" stroke-width="1.0" />
<line x1="153.45" y1="184.50" x2="153.45" y2="189.50" stroke="#1c1c1c" stroke-width="1.4" />
<line x1="291.00" y1="184.50" x2="291.00" y2="189.50" stroke="#1c1c1c" stroke-width="1.4" />
<line x1="391.38" y1="184.50" x2="391.38" y2="187.20" stroke="#1c1c1c" stroke-width="1.0" />
<line x1="408.54" y1="184.50" x2="408.54" y2="187.20" stroke="#1c1c1c" stroke-width="1.0" />
<line x1="421.85" y1="184.50" x2="421.85" y2="187.20" stroke="#1c1c1c" stroke-width="1.0" />
<line x1="432.73" y1="184.50" x2="432.73" y2="187.20" stroke="#1c1c1c" stroke-width="1.0" />
<line x1="441.92" y1="184.50" x2="441.92" y2="187.20" stroke="#1c1c1c" stroke-width="1.0" />
<line x1="449.89" y1="184.50" x2="449.89" y2="187.20" stroke="#1c1c1c" stroke-width="1.0" />
<line x1="456.92" y1="184.50" x2="456.92" y2="187.20" stroke="#1c1c1c" stroke-width="1.0" />
<line x1="504.55" y1="184.50" x2="504.55" y2="187.20" stroke="#1c1c1c" stroke-width="1.0" />
<line x1="528.73" y1="184.50" x2="528.73" y2="187.20" stroke="#1c1c1c" stroke-width="1.0" />
<line x1="545.89" y1="184.50" x2="545.89" y2="187.20" stroke="#1c1c1c" stroke-width="1.0" />
<line x1="559.20" y1="184.50" x2="559.20" y2="187.20" stroke="#1c1c1c" stroke-width="1.0" />
<line x1="570.08" y1="184.50" x2="570.08" y2="187.20" stroke="#1c1c1c" stroke-width="1.0" />
<line x1="579.27" y1="184.50" x2="579.27" y2="187.20" stroke="#1c1c1c" stroke-width="1.0" />
<line x1="587.24" y1="184.50" x2="587.24" y2="187.20" stroke="#1c1c1c" stroke-width="1.0" />
<line x1="594.27" y1="184.50" x2="594.27" y2="187.20" stroke="#1c1c1c" stroke-width="1.0" />
<line x1="641.90" y1="184.50" x2="641.90" y2="187.20" stroke="#1c1c1c" stroke-width="1.0" />
<line x1="666.08" y1="184.50" x2="666.08" y2="187.20" stroke="#1c1c1c" stroke-width="1.0" />
<line x1="463.20" y1="184.50" x2="463.20" y2="189.50" stroke="#1c1c1c" stroke-width="1.4" />
<line x1="600.55" y1="184.50" x2="600.55" y2="189.50" stroke="#1c1c1c" stroke-width="1.4" />
<line x1="80.92" y1="376.10" x2="80.92" y2="378.80" stroke="#1c1c1c" stroke-width="1.0" />
<line x1="98.02" y1="376.10" x2="98.02" y2="378.80" stroke="#1c1c1c" stroke-width="1.0" />
<line x1="111.29" y1="376.10" x2="111.29" y2="378.80" stroke="#1c1c1c" stroke-width="1.0" />
<line x1="122.13" y1="376.10" x2="122.13" y2="378.80" stroke="#1c1c1c" stroke-width="1.0" />
<line x1="131.29" y1="376.10" x2="131.29" y2="378.80" stroke="#1c1c1c" stroke-width="1.0" />
<line x1="139.23" y1="376.10" x2="139.23" y2="378.80" stroke="#1c1c1c" stroke-width="1.0" />
<line x1="146.24" y1="376.10" x2="146.24" y2="378.80" stroke="#1c1c1c" stroke-width="1.0" />
<line x1="193.71" y1="376.10" x2="193.71" y2="378.80" stroke="#1c1c1c" stroke-width="1.0" />
<line x1="217.82" y1="376.10" x2="217.82" y2="378.80" stroke="#1c1c1c" stroke-width="1.0" />
<line x1="234.92" y1="376.10" x2="234.92" y2="378.80" stroke="#1c1c1c" stroke-width="1.0" />
<line x1="248.19" y1="376.10" x2="248.19" y2="378.80" stroke="#1c1c1c" stroke-width="1.0" />
<line x1="259.03" y1="376.10" x2="259.03" y2="378.80" stroke="#1c1c1c" stroke-width="1.0" />
<line x1="268.19" y1="376.10" x2="268.19" y2="378.80" stroke="#1c1c1c" stroke-width="1.0" />
<line x1="276.13" y1="376.10" x2="276.13" y2="378.80" stroke="#1c1c1c" stroke-width="1.0" />
<line x1="283.14" y1="376.10" x2="283.14" y2="378.80" stroke="#1c1c1c" stroke-width="1.0" />
<line x1="330.61" y1="376.10" x2="330.61" y2="378.80" stroke="#1c1c1c" stroke-width="1.0" />
<line x1="354.72" y1="376.10" x2="354.72" y2="378.80" stroke="#1c1c1c" stroke-width="1.0" />
<line x1="152.50" y1="376.10" x2="152.50" y2="381.10" stroke="#1c1c1c" stroke-width="1.4" />
<line x1="289.40" y1="376.10" x2="289.40" y2="381.10" stroke="#1c1c1c" stroke-width="1.4" />
<line x1="390.82" y1="376.10" x2="390.82" y2="378.80" stroke="#1c1c1c" stroke-width="1.0" />
<line x1="407.92" y1="376.10" x2="407.92" y2="378.80" stroke="#1c1c1c" stroke-width="1.0" />
<line x1="421.19" y1="376.10" x2="421.19" y2="378.80" stroke="#1c1c1c" stroke-width="1.0" />
<line x1="432.03" y1="376.10" x2="432.03" y2="378.80" stroke="#1c1c1c" stroke-width="1.0" />
<line x1="441.19" y1="376.10" x2="441.19" y2="378.80" stroke="#1c1c1c" stroke-width="1.0" />
<line x1="449.13" y1="376.10" x2="449.13" y2="378.80" stroke="#1c1c1c" stroke-width="1.0" />
<line x1="456.14" y1="376.10" x2="456.14" y2="378.80" stroke="#1c1c1c" stroke-width="1.0" />
<line x1="503.61" y1="376.10" x2="503.61" y2="378.80" stroke="#1c1c1c" stroke-width="1.0" />
<line x1="527.72" y1="376.10" x2="527.72" y2="378.80" stroke="#1c1c1c" stroke-width="1.0" />
<line x1="544.82" y1="376.10" x2="544.82" y2="378.80" stroke="#1c1c1c" stroke-width="1.0" />
<line x1="558.09" y1="376.10" x2="558.09" y2="378.80" stroke="#1c1c1c" stroke-width="1.0" />
<line x1="568.93" y1="376.10" x2="568.93" y2="378.80" stroke="#1c1c1c" stroke-width="1.0" />
<line x1="578.09" y1="376.10" x2="578.09" y2="378.80" stroke="#1c1c1c" stroke-width="1.0" />
<line x1="586.03" y1="376.10" x2="586.03" y2="378.80" stroke="#1c1c1c" stroke-width="1.0" />
<line x1="593.04" y1="376.10" x2="593.04" y2="378.80" stroke="#1c1c1c" stroke-width="1.0" />
<line x1="640.51" y1="376.10" x2="640.51" y2="378.80" stroke="#1c1c1c" stroke-width="1.0" />
<line x1="664.62" y1="376.10" x2="664.62" y2="378.80" stroke="#1c1c1c" stroke-width="1.0" />
<line x1="462.40" y1="376.10" x2="462.40" y2="381.10" stroke="#1c1c1c" stroke-width="1.4" />
<line x1="599.30" y1="376.10" x2="599.30" y2="381.10" stroke="#1c1c1c" stroke-width="1.4" />
<line x1="68.10" y1="181.93" x2="65.40" y2="181.93" stroke="#1c1c1c" stroke-width="1.0" />
<line x1="68.10" y1="178.40" x2="65.40" y2="178.40" stroke="#1c1c1c" stroke-width="1.0" />
<line x1="68.10" y1="154.51" x2="65.40" y2="154.51" stroke="#1c1c1c" stroke-width="1.0" />
<line x1="68.10" y1="142.38" x2="65.40" y2="142.38" stroke="#1c1c1c" stroke-width="1.0" />
<line x1="68.10" y1="133.77" x2="65.40" y2="133.77" stroke="#1c1c1c" stroke-width="1.0" />
<line x1="68.10" y1="127.09" x2="65.40" y2="127.09" stroke="#1c1c1c" stroke-width="1.0" />
<line x1="68.10" y1="121.64" x2="65.40" y2="121.64" stroke="#1c1c1c" stroke-width="1.0" />
<line x1="68.10" y1="117.02" x2="65.40" y2="117.02" stroke="#1c1c1c" stroke-width="1.0" />
<line x1="68.10" y1="113.03" x2="65.40" y2="113.03" stroke="#1c1c1c" stroke-width="1.0" />
<line x1="68.10" y1="109.50" x2="65.40" y2="109.50" stroke="#1c1c1c" stroke-width="1.0" />
<line x1="68.10" y1="85.61" x2="65.40" y2="85.61" stroke="#1c1c1c" stroke-width="1.0" />
<line x1="68.10" y1="73.48" x2="65.40" y2="73.48" stroke="#1c1c1c" stroke-width="1.0" />
<line x1="68.10" y1="64.87" x2="65.40" y2="64.87" stroke="#1c1c1c" stroke-width="1.0" />
<line x1="68.10" y1="58.19" x2="65.40" y2="58.19" stroke="#1c1c1c" stroke-width="1.0" />
<line x1="68.10" y1="52.74" x2="65.40" y2="52.74" stroke="#1c1c1c" stroke-width="1.0" />
<line x1="68.10" y1="48.12" x2="65.40" y2="48.12" stroke="#1c1c1c" stroke-width="1.0" />
<line x1="68.10" y1="44.13" x2="65.40" y2="44.13" stroke="#1c1c1c" stroke-width="1.0" />
<line x1="68.10" y1="40.60" x2="65.40" y2="40.60" stroke="#1c1c1c" stroke-width="1.0" />
<line x1="68.10" y1="16.71" x2="65.40" y2="16.71" stroke="#1c1c1c" stroke-width="1.0" />
<line x1="68.10" y1="175.25" x2="63.10" y2="175.25" stroke="#1c1c1c" stroke-width="1.4" />
<line x1="68.10" y1="106.35" x2="63.10" y2="106.35" stroke="#1c1c1c" stroke-width="1.4" />
<line x1="68.10" y1="37.45" x2="63.10" y2="37.45" stroke="#1c1c1c" stroke-width="1.4" />
<line x1="679.90" y1="181.93" x2="682.60" y2="181.93" stroke="#1c1c1c" stroke-width="1.0" />
<line x1="679.90" y1="178.40" x2="682.60" y2="178.40" stroke="#1c1c1c" stroke-width="1.0" />
<line x1="679.90" y1="154.51" x2="682.60" y2="154.51" stroke="#1c1c1c" stroke-width="1.0" />
<line x1="679.90" y1="142.38" x2="682.60" y2="142.38" stroke="#1c1c1c" stroke-width="1.0" />
<line x1="679.90" y1="133.77" x2="682.60" y2="133.77" stroke="#1c1c1c" stroke-width="1.0" />
<line x1="679.90" y1="127.09" x2="682.60" y2="127.09" stroke="#1c1c1c" stroke-width="1.0" />
<line x1="679.90" y1="121.64" x2="682.60" y2="121.64" stroke="#1c1c1c" stroke-width="1.0" />
<line x1="679.90" y1="117.02" x2="682.60" y2="117.02" stroke="#1c1c1c" stroke-width="1.0" />
<line x1="679.90" y1="113.03" x2="682.60" y2="113.03" stroke="#1c1c1c" stroke-width="1.0" />
<line x1="679.90" y1="109.50" x2="682.60" y2="109.50" stroke="#1c1c1c" stroke-width="1.0" />
<line x1="679.90" y1="85.61" x2="682.60" y2="85.61" stroke="#1c1c1c" stroke-width="1.0" />
<line x1="679.90" y1="73.48" x2="682.60" y2="73.48" stroke="#1c1c1c" stroke-width="1.0" />
<line x1="679.90" y1="64.87" x2="682.60" y2="64.87" stroke="#1c1c1c" stroke-width="1.0" />
<line x1="679.90" y1="58.19" x2="682.60" y2="58.19" stroke="#1c1c1c" stroke-width="1.0" />
<line x1="679.90" y1="52.74" x2="682.60" y2="52.74" stroke="#1c1c1c" stroke-width="1.0" />
<line x1="679.90" y1="48.12" x2="682.60" y2="48.12" stroke="#1c1c1c" stroke-width="1.0" />
<line x1="679.90" y1="44.13" x2="682.60" y2="44.13" stroke="#1c1c1c" stroke-width="1.0" />
<line x1="679.90" y1="40.60" x2="682.60" y2="40.60" stroke="#1c1c1c" stroke-width="1.0" />
<line x1="679.90" y1="16.71" x2="682.60" y2="16.71" stroke="#1c1c1c" stroke-width="1.0" />
<line x1="679.90" y1="175.25" x2="684.90" y2="175.25" stroke="#1c1c1c" stroke-width="1.4" />
<line x1="679.90" y1="106.35" x2="684.90" y2="106.35" stroke="#1c1c1c" stroke-width="1.4" />
<line x1="679.90" y1="37.45" x2="684.90" y2="37.45" stroke="#1c1c1c" stroke-width="1.4" />
<line x1="67.20" y1="371.80" x2="62.20" y2="371.80" stroke="#1c1c1c" stroke-width="1.4" />
<line x1="67.20" y1="341.60" x2="62.20" y2="341.60" stroke="#1c1c1c" stroke-width="1.4" />
<line x1="67.20" y1="311.40" x2="62.20" y2="311.40" stroke="#1c1c1c" stroke-width="1.4" />
<line x1="67.20" y1="281.20" x2="62.20" y2="281.20" stroke="#1c1c1c" stroke-width="1.4" />
<line x1="67.20" y1="251.00" x2="62.20" y2="251.00" stroke="#1c1c1c" stroke-width="1.4" />
<line x1="67.20" y1="220.80" x2="62.20" y2="220.80" stroke="#1c1c1c" stroke-width="1.4" />
<line x1="376.90" y1="371.80" x2="371.90" y2="371.80" stroke="#1c1c1c" stroke-width="1.4" />
<line x1="376.90" y1="341.60" x2="371.90" y2="341.60" stroke="#1c1c1c" stroke-width="1.4" />
<line x1="376.90" y1="311.40" x2="371.90" y2="311.40" stroke="#1c1c1c" stroke-width="1.4" />
<line x1="376.90" y1="281.20" x2="371.90" y2="281.20" stroke="#1c1c1c" stroke-width="1.4" />
<line x1="376.90" y1="251.00" x2="371.90" y2="251.00" stroke="#1c1c1c" stroke-width="1.4" />
<line x1="376.90" y1="220.80" x2="371.90" y2="220.80" stroke="#1c1c1c" stroke-width="1.4" />
<rect x="552.3" y="94.5" width="108.6" height="66.9" rx="3" ry="3" fill="#fff" fill-opacity="0.8" stroke="#cccccc" stroke-width="1.2"/>
<circle cx="569.9" cy="107.1" r="5.1" fill="#1f77b4"/>
<path d="M565.60 125.50L574.20 134.10M565.60 134.10L574.20 125.50" stroke="#ff00ff" stroke-width="2.3" stroke-opacity="0.78" fill="none"/>
<path d="M559.5 146.7H578.6" stroke="#000" stroke-width="2.4" stroke-dasharray="7.7 3.7"/>
<text x="597.10" y="111.30" font-size="14.8" text-anchor="start" >Opt.</text>
<text x="597.00" y="132.50" font-size="14.80" font-style="italic">N</text>
<text x="611.90" y="132.10" font-size="13.40">=</text>
<text x="625.20" y="132.50" font-size="14.80" font-style="italic">N</text>
<text x="636.00" y="134.80" font-size="10.36" font-style="italic">T</text>
<text x="590.60" y="151.60" font-size="14.80" font-style="italic">Fit</text>
<text x="608.00" y="151.60" font-size="14.80">:</text>
<text x="616.30" y="151.60" font-size="14.80" font-style="italic">α</text>
<text x="627.70" y="151.60" font-size="14.80" font-style="italic">N</text>
<text x="641.30" y="146.20" font-size="10.36">−</text>
<text x="648.00" y="146.20" font-size="10.36" font-style="italic">β</text>
<rect x="196.0" y="213.2" width="169.10" height="94.70" rx="3" ry="3" fill="#f3f3f3" fill-opacity="0.88" stroke="#dcdcdc" stroke-width="1.2"/>
<rect x="241.1" y="218.7" width="120.50" height="65.60" fill="#fff"/>
<clipPath id="cic"><rect x="241.1" y="218.7" width="120.50" height="65.60"/></clipPath>
<g clip-path="url(#cic)">
<line x1="245.78" y1="218.70" x2="245.78" y2="284.30" stroke="#c8c8c8" stroke-width="1.0" />
<line x1="252.71" y1="218.70" x2="252.71" y2="284.30" stroke="#c8c8c8" stroke-width="1.0" />
<line x1="258.09" y1="218.70" x2="258.09" y2="284.30" stroke="#c8c8c8" stroke-width="1.0" />
<line x1="262.49" y1="218.70" x2="262.49" y2="284.30" stroke="#c8c8c8" stroke-width="1.0" />
<line x1="266.20" y1="218.70" x2="266.20" y2="284.30" stroke="#c8c8c8" stroke-width="1.0" />
<line x1="269.42" y1="218.70" x2="269.42" y2="284.30" stroke="#c8c8c8" stroke-width="1.0" />
<line x1="272.26" y1="218.70" x2="272.26" y2="284.30" stroke="#c8c8c8" stroke-width="1.0" />
<line x1="291.51" y1="218.70" x2="291.51" y2="284.30" stroke="#c8c8c8" stroke-width="1.0" />
<line x1="301.28" y1="218.70" x2="301.28" y2="284.30" stroke="#c8c8c8" stroke-width="1.0" />
<line x1="308.21" y1="218.70" x2="308.21" y2="284.30" stroke="#c8c8c8" stroke-width="1.0" />
<line x1="313.59" y1="218.70" x2="313.59" y2="284.30" stroke="#c8c8c8" stroke-width="1.0" />
<line x1="317.99" y1="218.70" x2="317.99" y2="284.30" stroke="#c8c8c8" stroke-width="1.0" />
<line x1="321.70" y1="218.70" x2="321.70" y2="284.30" stroke="#c8c8c8" stroke-width="1.0" />
<line x1="324.92" y1="218.70" x2="324.92" y2="284.30" stroke="#c8c8c8" stroke-width="1.0" />
<line x1="327.76" y1="218.70" x2="327.76" y2="284.30" stroke="#c8c8c8" stroke-width="1.0" />
<line x1="347.01" y1="218.70" x2="347.01" y2="284.30" stroke="#c8c8c8" stroke-width="1.0" />
<line x1="356.78" y1="218.70" x2="356.78" y2="284.30" stroke="#c8c8c8" stroke-width="1.0" />
<line x1="241.10" y1="284.19" x2="361.60" y2="284.19" stroke="#c8c8c8" stroke-width="1.0" />
<line x1="241.10" y1="282.61" x2="361.60" y2="282.61" stroke="#c8c8c8" stroke-width="1.0" />
<line x1="241.10" y1="271.90" x2="361.60" y2="271.90" stroke="#c8c8c8" stroke-width="1.0" />
<line x1="241.10" y1="266.46" x2="361.60" y2="266.46" stroke="#c8c8c8" stroke-width="1.0" />
<line x1="241.10" y1="262.60" x2="361.60" y2="262.60" stroke="#c8c8c8" stroke-width="1.0" />
<line x1="241.10" y1="259.60" x2="361.60" y2="259.60" stroke="#c8c8c8" stroke-width="1.0" />
<line x1="241.10" y1="257.16" x2="361.60" y2="257.16" stroke="#c8c8c8" stroke-width="1.0" />
<line x1="241.10" y1="255.09" x2="361.60" y2="255.09" stroke="#c8c8c8" stroke-width="1.0" />
<line x1="241.10" y1="253.29" x2="361.60" y2="253.29" stroke="#c8c8c8" stroke-width="1.0" />
<line x1="241.10" y1="251.71" x2="361.60" y2="251.71" stroke="#c8c8c8" stroke-width="1.0" />
<line x1="241.10" y1="241.00" x2="361.60" y2="241.00" stroke="#c8c8c8" stroke-width="1.0" />
<line x1="241.10" y1="235.56" x2="361.60" y2="235.56" stroke="#c8c8c8" stroke-width="1.0" />
<line x1="241.10" y1="231.70" x2="361.60" y2="231.70" stroke="#c8c8c8" stroke-width="1.0" />
<line x1="241.10" y1="228.70" x2="361.60" y2="228.70" stroke="#c8c8c8" stroke-width="1.0" />
<line x1="241.10" y1="226.26" x2="361.60" y2="226.26" stroke="#c8c8c8" stroke-width="1.0" />
<line x1="241.10" y1="224.19" x2="361.60" y2="224.19" stroke="#c8c8c8" stroke-width="1.0" />
<line x1="241.10" y1="222.39" x2="361.60" y2="222.39" stroke="#c8c8c8" stroke-width="1.0" />
<line x1="241.10" y1="220.81" x2="361.60" y2="220.81" stroke="#c8c8c8" stroke-width="1.0" />
<line x1="274.80" y1="218.70" x2="274.80" y2="284.30" stroke="#a8a8a8" stroke-width="1.3" />
<line x1="330.30" y1="218.70" x2="330.30" y2="284.30" stroke="#a8a8a8" stroke-width="1.3" />
<line x1="241.10" y1="281.20" x2="361.60" y2="281.20" stroke="#a8a8a8" stroke-width="1.3" />
<line x1="241.10" y1="250.30" x2="361.60" y2="250.30" stroke="#a8a8a8" stroke-width="1.3" />
<line x1="241.10" y1="219.40" x2="361.60" y2="219.40" stroke="#a8a8a8" stroke-width="1.3" />
<circle cx="245.78" cy="235.60" r="2.55" fill="#1f77b4"/>
<circle cx="252.71" cy="234.30" r="2.55" fill="#1f77b4"/>
<circle cx="258.09" cy="234.82" r="2.55" fill="#1f77b4"/>
<circle cx="262.49" cy="235.57" r="2.55" fill="#1f77b4"/>
<circle cx="266.20" cy="236.49" r="2.55" fill="#1f77b4"/>
<circle cx="269.42" cy="237.53" r="2.55" fill="#1f77b4"/>
<circle cx="272.26" cy="238.36" r="2.55" fill="#1f77b4"/>
<circle cx="274.80" cy="239.29" r="2.55" fill="#1f77b4"/>
<circle cx="277.10" cy="240.11" r="2.55" fill="#1f77b4"/>
<circle cx="279.19" cy="240.91" r="2.55" fill="#1f77b4"/>
<circle cx="281.12" cy="241.69" r="2.55" fill="#1f77b4"/>
<circle cx="282.91" cy="242.46" r="2.55" fill="#1f77b4"/>
<circle cx="284.57" cy="243.22" r="2.55" fill="#1f77b4"/>
<circle cx="286.13" cy="243.92" r="2.55" fill="#1f77b4"/>
<circle cx="287.59" cy="244.61" r="2.55" fill="#1f77b4"/>
<circle cx="288.97" cy="245.30" r="2.55" fill="#1f77b4"/>
<circle cx="290.27" cy="245.98" r="2.55" fill="#1f77b4"/>
<circle cx="291.51" cy="246.66" r="2.55" fill="#1f77b4"/>
<circle cx="301.28" cy="251.70" r="2.55" fill="#1f77b4"/>
<circle cx="308.21" cy="255.11" r="2.55" fill="#1f77b4"/>
<circle cx="313.59" cy="258.33" r="2.55" fill="#1f77b4"/>
<circle cx="323.37" cy="262.80" r="2.55" fill="#1f77b4"/>
<circle cx="330.30" cy="266.85" r="2.55" fill="#1f77b4"/>
<circle cx="340.07" cy="271.99" r="2.55" fill="#1f77b4"/>
<circle cx="347.01" cy="275.85" r="2.55" fill="#1f77b4"/>
<circle cx="356.78" cy="280.85" r="2.55" fill="#1f77b4"/>
<path d="M246.3 222.0L357.4 281.9" stroke="#000" stroke-width="2.3" stroke-dasharray="7.6 3.4" fill="none"/>
</g>
<rect x="241.1" y="218.7" width="120.50" height="65.60" fill="none" stroke="#1c1c1c" stroke-width="1.5"/>
<line x1="245.78" y1="284.30" x2="245.78" y2="287.10" stroke="#1c1c1c" stroke-width="1.0" />
<line x1="252.71" y1="284.30" x2="252.71" y2="287.10" stroke="#1c1c1c" stroke-width="1.0" />
<line x1="258.09" y1="284.30" x2="258.09" y2="287.10" stroke="#1c1c1c" stroke-width="1.0" />
<line x1="262.49" y1="284.30" x2="262.49" y2="287.10" stroke="#1c1c1c" stroke-width="1.0" />
<line x1="266.20" y1="284.30" x2="266.20" y2="287.10" stroke="#1c1c1c" stroke-width="1.0" />
<line x1="269.42" y1="284.30" x2="269.42" y2="287.10" stroke="#1c1c1c" stroke-width="1.0" />
<line x1="272.26" y1="284.30" x2="272.26" y2="287.10" stroke="#1c1c1c" stroke-width="1.0" />
<line x1="291.51" y1="284.30" x2="291.51" y2="287.10" stroke="#1c1c1c" stroke-width="1.0" />
<line x1="301.28" y1="284.30" x2="301.28" y2="287.10" stroke="#1c1c1c" stroke-width="1.0" />
<line x1="308.21" y1="284.30" x2="308.21" y2="287.10" stroke="#1c1c1c" stroke-width="1.0" />
<line x1="313.59" y1="284.30" x2="313.59" y2="287.10" stroke="#1c1c1c" stroke-width="1.0" />
<line x1="317.99" y1="284.30" x2="317.99" y2="287.10" stroke="#1c1c1c" stroke-width="1.0" />
<line x1="321.70" y1="284.30" x2="321.70" y2="287.10" stroke="#1c1c1c" stroke-width="1.0" />
<line x1="324.92" y1="284.30" x2="324.92" y2="287.10" stroke="#1c1c1c" stroke-width="1.0" />
<line x1="327.76" y1="284.30" x2="327.76" y2="287.10" stroke="#1c1c1c" stroke-width="1.0" />
<line x1="347.01" y1="284.30" x2="347.01" y2="287.10" stroke="#1c1c1c" stroke-width="1.0" />
<line x1="356.78" y1="284.30" x2="356.78" y2="287.10" stroke="#1c1c1c" stroke-width="1.0" />
<line x1="274.80" y1="284.30" x2="274.80" y2="289.30" stroke="#1c1c1c" stroke-width="1.4" />
<line x1="330.30" y1="284.30" x2="330.30" y2="289.30" stroke="#1c1c1c" stroke-width="1.4" />
<line x1="241.10" y1="271.90" x2="238.30" y2="271.90" stroke="#1c1c1c" stroke-width="1.0" />
<line x1="241.10" y1="266.46" x2="238.30" y2="266.46" stroke="#1c1c1c" stroke-width="1.0" />
<line x1="241.10" y1="262.60" x2="238.30" y2="262.60" stroke="#1c1c1c" stroke-width="1.0" />
<line x1="241.10" y1="259.60" x2="238.30" y2="259.60" stroke="#1c1c1c" stroke-width="1.0" />
<line x1="241.10" y1="257.16" x2="238.30" y2="257.16" stroke="#1c1c1c" stroke-width="1.0" />
<line x1="241.10" y1="255.09" x2="238.30" y2="255.09" stroke="#1c1c1c" stroke-width="1.0" />
<line x1="241.10" y1="253.29" x2="238.30" y2="253.29" stroke="#1c1c1c" stroke-width="1.0" />
<line x1="241.10" y1="251.71" x2="238.30" y2="251.71" stroke="#1c1c1c" stroke-width="1.0" />
<line x1="241.10" y1="281.20" x2="236.10" y2="281.20" stroke="#1c1c1c" stroke-width="1.4" />
<line x1="241.10" y1="241.00" x2="238.30" y2="241.00" stroke="#1c1c1c" stroke-width="1.0" />
<line x1="241.10" y1="235.56" x2="238.30" y2="235.56" stroke="#1c1c1c" stroke-width="1.0" />
<line x1="241.10" y1="231.70" x2="238.30" y2="231.70" stroke="#1c1c1c" stroke-width="1.0" />
<line x1="241.10" y1="228.70" x2="238.30" y2="228.70" stroke="#1c1c1c" stroke-width="1.0" />
<line x1="241.10" y1="226.26" x2="238.30" y2="226.26" stroke="#1c1c1c" stroke-width="1.0" />
<line x1="241.10" y1="224.19" x2="238.30" y2="224.19" stroke="#1c1c1c" stroke-width="1.0" />
<line x1="241.10" y1="222.39" x2="238.30" y2="222.39" stroke="#1c1c1c" stroke-width="1.0" />
<line x1="241.10" y1="220.81" x2="238.30" y2="220.81" stroke="#1c1c1c" stroke-width="1.0" />
<line x1="241.10" y1="250.30" x2="236.10" y2="250.30" stroke="#1c1c1c" stroke-width="1.4" />
<line x1="241.10" y1="219.40" x2="236.10" y2="219.40" stroke="#1c1c1c" stroke-width="1.4" />
<text x="230.90" y="224.70" font-size="14.0" text-anchor="end">10<tspan font-size="9.8" dx="0.3" dy="-4.90">1</tspan></text>
<text x="230.90" y="255.50" font-size="14.0" text-anchor="end">10<tspan font-size="9.8" dx="0.3" dy="-4.90">0</tspan></text>
<text x="230.90" y="286.50" font-size="14.0" text-anchor="end">10<tspan font-size="9.8" dx="0.3" dy="-4.90">−1</tspan></text>
<text x="275.10" y="304.40" font-size="14.0" text-anchor="middle">10<tspan font-size="9.8" dx="0.3" dy="-4.90">1</tspan></text>
<text x="330.60" y="304.40" font-size="14.0" text-anchor="middle">10<tspan font-size="9.8" dx="0.3" dy="-4.90">2</tspan></text>
<rect x="379.1" y="286.5" width="154.80" height="86.50" rx="3" ry="3" fill="#f3f3f3" fill-opacity="0.88" stroke="#dcdcdc" stroke-width="1.2"/>
<rect x="382.4" y="306.0" width="121.30" height="65.30" fill="#fff"/>
<clipPath id="cid"><rect x="382.4" y="306.0" width="121.30" height="65.30"/></clipPath>
<g clip-path="url(#cid)">
<line x1="394.81" y1="306.00" x2="394.81" y2="371.30" stroke="#c8c8c8" stroke-width="1.0" />
<line x1="400.14" y1="306.00" x2="400.14" y2="371.30" stroke="#c8c8c8" stroke-width="1.0" />
<line x1="404.50" y1="306.00" x2="404.50" y2="371.30" stroke="#c8c8c8" stroke-width="1.0" />
<line x1="408.18" y1="306.00" x2="408.18" y2="371.30" stroke="#c8c8c8" stroke-width="1.0" />
<line x1="411.37" y1="306.00" x2="411.37" y2="371.30" stroke="#c8c8c8" stroke-width="1.0" />
<line x1="414.18" y1="306.00" x2="414.18" y2="371.30" stroke="#c8c8c8" stroke-width="1.0" />
<line x1="433.26" y1="306.00" x2="433.26" y2="371.30" stroke="#c8c8c8" stroke-width="1.0" />
<line x1="442.94" y1="306.00" x2="442.94" y2="371.30" stroke="#c8c8c8" stroke-width="1.0" />
<line x1="449.81" y1="306.00" x2="449.81" y2="371.30" stroke="#c8c8c8" stroke-width="1.0" />
<line x1="455.14" y1="306.00" x2="455.14" y2="371.30" stroke="#c8c8c8" stroke-width="1.0" />
<line x1="459.50" y1="306.00" x2="459.50" y2="371.30" stroke="#c8c8c8" stroke-width="1.0" />
<line x1="463.18" y1="306.00" x2="463.18" y2="371.30" stroke="#c8c8c8" stroke-width="1.0" />
<line x1="466.37" y1="306.00" x2="466.37" y2="371.30" stroke="#c8c8c8" stroke-width="1.0" />
<line x1="469.18" y1="306.00" x2="469.18" y2="371.30" stroke="#c8c8c8" stroke-width="1.0" />
<line x1="488.26" y1="306.00" x2="488.26" y2="371.30" stroke="#c8c8c8" stroke-width="1.0" />
<line x1="497.94" y1="306.00" x2="497.94" y2="371.30" stroke="#c8c8c8" stroke-width="1.0" />
<line x1="382.40" y1="368.52" x2="503.70" y2="368.52" stroke="#c8c8c8" stroke-width="1.0" />
<line x1="382.40" y1="365.89" x2="503.70" y2="365.89" stroke="#c8c8c8" stroke-width="1.0" />
<line x1="382.40" y1="363.57" x2="503.70" y2="363.57" stroke="#c8c8c8" stroke-width="1.0" />
<line x1="382.40" y1="347.86" x2="503.70" y2="347.86" stroke="#c8c8c8" stroke-width="1.0" />
<line x1="382.40" y1="339.89" x2="503.70" y2="339.89" stroke="#c8c8c8" stroke-width="1.0" />
<line x1="382.40" y1="334.23" x2="503.70" y2="334.23" stroke="#c8c8c8" stroke-width="1.0" />
<line x1="382.40" y1="329.84" x2="503.70" y2="329.84" stroke="#c8c8c8" stroke-width="1.0" />
<line x1="382.40" y1="326.25" x2="503.70" y2="326.25" stroke="#c8c8c8" stroke-width="1.0" />
<line x1="382.40" y1="323.22" x2="503.70" y2="323.22" stroke="#c8c8c8" stroke-width="1.0" />
<line x1="382.40" y1="320.59" x2="503.70" y2="320.59" stroke="#c8c8c8" stroke-width="1.0" />
<line x1="382.40" y1="318.27" x2="503.70" y2="318.27" stroke="#c8c8c8" stroke-width="1.0" />
<line x1="416.70" y1="306.00" x2="416.70" y2="371.30" stroke="#a8a8a8" stroke-width="1.3" />
<line x1="471.70" y1="306.00" x2="471.70" y2="371.30" stroke="#a8a8a8" stroke-width="1.3" />
<line x1="382.40" y1="361.50" x2="503.70" y2="361.50" stroke="#a8a8a8" stroke-width="1.3" />
<line x1="382.40" y1="316.20" x2="503.70" y2="316.20" stroke="#a8a8a8" stroke-width="1.3" />
<circle cx="387.94" cy="338.91" r="2.55" fill="#1f77b4"/>
<circle cx="394.81" cy="332.98" r="2.55" fill="#1f77b4"/>
<circle cx="400.14" cy="330.91" r="2.55" fill="#1f77b4"/>
<circle cx="404.50" cy="329.97" r="2.55" fill="#1f77b4"/>
<circle cx="408.18" cy="329.71" r="2.55" fill="#1f77b4"/>
<circle cx="411.37" cy="329.66" r="2.55" fill="#1f77b4"/>
<circle cx="414.18" cy="329.89" r="2.55" fill="#1f77b4"/>
<circle cx="416.70" cy="330.18" r="2.55" fill="#1f77b4"/>
<circle cx="418.98" cy="330.57" r="2.55" fill="#1f77b4"/>
<circle cx="421.05" cy="330.94" r="2.55" fill="#1f77b4"/>
<circle cx="422.97" cy="331.43" r="2.55" fill="#1f77b4"/>
<circle cx="424.74" cy="331.89" r="2.55" fill="#1f77b4"/>
<circle cx="426.39" cy="332.33" r="2.55" fill="#1f77b4"/>
<circle cx="427.93" cy="332.87" r="2.55" fill="#1f77b4"/>
<circle cx="429.37" cy="333.39" r="2.55" fill="#1f77b4"/>
<circle cx="430.74" cy="333.89" r="2.55" fill="#1f77b4"/>
<circle cx="432.03" cy="334.38" r="2.55" fill="#1f77b4"/>
<circle cx="433.26" cy="334.86" r="2.55" fill="#1f77b4"/>
<circle cx="442.94" cy="338.81" r="2.55" fill="#1f77b4"/>
<circle cx="449.81" cy="341.94" r="2.55" fill="#1f77b4"/>
<circle cx="455.14" cy="344.77" r="2.55" fill="#1f77b4"/>
<circle cx="464.83" cy="349.78" r="2.55" fill="#1f77b4"/>
<circle cx="471.70" cy="353.61" r="2.55" fill="#1f77b4"/>
<circle cx="481.39" cy="358.43" r="2.55" fill="#1f77b4"/>
<circle cx="488.26" cy="362.43" r="2.55" fill="#1f77b4"/>
<circle cx="497.94" cy="369.22" r="2.55" fill="#1f77b4"/>
<path d="M388.1 309.3L499.0 367.8" stroke="#000" stroke-width="2.3" stroke-dasharray="7.6 3.4" fill="none"/>
</g>
<rect x="382.4" y="306.0" width="121.30" height="65.30" fill="none" stroke="#1c1c1c" stroke-width="1.5"/>
<line x1="394.81" y1="306.00" x2="394.81" y2="303.20" stroke="#1c1c1c" stroke-width="1.0" />
<line x1="400.14" y1="306.00" x2="400.14" y2="303.20" stroke="#1c1c1c" stroke-width="1.0" />
<line x1="404.50" y1="306.00" x2="404.50" y2="303.20" stroke="#1c1c1c" stroke-width="1.0" />
<line x1="408.18" y1="306.00" x2="408.18" y2="303.20" stroke="#1c1c1c" stroke-width="1.0" />
<line x1="411.37" y1="306.00" x2="411.37" y2="303.20" stroke="#1c1c1c" stroke-width="1.0" />
<line x1="414.18" y1="306.00" x2="414.18" y2="303.20" stroke="#1c1c1c" stroke-width="1.0" />
<line x1="433.26" y1="306.00" x2="433.26" y2="303.20" stroke="#1c1c1c" stroke-width="1.0" />
<line x1="442.94" y1="306.00" x2="442.94" y2="303.20" stroke="#1c1c1c" stroke-width="1.0" />
<line x1="449.81" y1="306.00" x2="449.81" y2="303.20" stroke="#1c1c1c" stroke-width="1.0" />
<line x1="455.14" y1="306.00" x2="455.14" y2="303.20" stroke="#1c1c1c" stroke-width="1.0" />
<line x1="459.50" y1="306.00" x2="459.50" y2="303.20" stroke="#1c1c1c" stroke-width="1.0" />
<line x1="463.18" y1="306.00" x2="463.18" y2="303.20" stroke="#1c1c1c" stroke-width="1.0" />
<line x1="466.37" y1="306.00" x2="466.37" y2="303.20" stroke="#1c1c1c" stroke-width="1.0" />
<line x1="469.18" y1="306.00" x2="469.18" y2="303.20" stroke="#1c1c1c" stroke-width="1.0" />
<line x1="488.26" y1="306.00" x2="488.26" y2="303.20" stroke="#1c1c1c" stroke-width="1.0" />
<line x1="497.94" y1="306.00" x2="497.94" y2="303.20" stroke="#1c1c1c" stroke-width="1.0" />
<line x1="416.70" y1="306.00" x2="416.70" y2="301.00" stroke="#1c1c1c" stroke-width="1.4" />
<line x1="471.70" y1="306.00" x2="471.70" y2="301.00" stroke="#1c1c1c" stroke-width="1.4" />
<line x1="503.70" y1="368.52" x2="506.50" y2="368.52" stroke="#1c1c1c" stroke-width="1.0" />
<line x1="503.70" y1="365.89" x2="506.50" y2="365.89" stroke="#1c1c1c" stroke-width="1.0" />
<line x1="503.70" y1="363.57" x2="506.50" y2="363.57" stroke="#1c1c1c" stroke-width="1.0" />
<line x1="503.70" y1="347.86" x2="506.50" y2="347.86" stroke="#1c1c1c" stroke-width="1.0" />
<line x1="503.70" y1="339.89" x2="506.50" y2="339.89" stroke="#1c1c1c" stroke-width="1.0" />
<line x1="503.70" y1="334.23" x2="506.50" y2="334.23" stroke="#1c1c1c" stroke-width="1.0" />
<line x1="503.70" y1="329.84" x2="506.50" y2="329.84" stroke="#1c1c1c" stroke-width="1.0" />
<line x1="503.70" y1="326.25" x2="506.50" y2="326.25" stroke="#1c1c1c" stroke-width="1.0" />
<line x1="503.70" y1="323.22" x2="506.50" y2="323.22" stroke="#1c1c1c" stroke-width="1.0" />
<line x1="503.70" y1="320.59" x2="506.50" y2="320.59" stroke="#1c1c1c" stroke-width="1.0" />
<line x1="503.70" y1="318.27" x2="506.50" y2="318.27" stroke="#1c1c1c" stroke-width="1.0" />
<line x1="503.70" y1="361.50" x2="508.70" y2="361.50" stroke="#1c1c1c" stroke-width="1.4" />
<line x1="503.70" y1="316.20" x2="508.70" y2="316.20" stroke="#1c1c1c" stroke-width="1.4" />
<text x="416.90" y="299.80" font-size="14.0" text-anchor="middle">10<tspan font-size="9.8" dx="0.3" dy="-4.90">1</tspan></text>
<text x="471.90" y="299.80" font-size="14.0" text-anchor="middle">10<tspan font-size="9.8" dx="0.3" dy="-4.90">2</tspan></text>
<text x="507.00" y="321.20" font-size="14.0" text-anchor="start">10<tspan font-size="9.8" dx="0.3" dy="-4.90">1</tspan></text>
<text x="507.00" y="365.70" font-size="14.0" text-anchor="start">10<tspan font-size="9.8" dx="0.3" dy="-4.90">0</tspan></text>
<rect x="68.10" y="17.00" width="302.40" height="167.50" fill="none" stroke="#1c1c1c" stroke-width="1.55"/>
<rect x="377.60" y="17.00" width="302.30" height="167.50" fill="none" stroke="#1c1c1c" stroke-width="1.55"/>
<rect x="67.20" y="212.40" width="301.30" height="163.70" fill="none" stroke="#1c1c1c" stroke-width="1.55"/>
<rect x="376.90" y="212.40" width="301.70" height="163.70" fill="none" stroke="#1c1c1c" stroke-width="1.55"/>
<text x="56.30" y="42.35" font-size="14.7" text-anchor="end">10<tspan font-size="9.8" dx="0.9" dy="-5.40">−2</tspan></text>
<text x="56.30" y="111.25" font-size="14.7" text-anchor="end">10<tspan font-size="9.8" dx="0.9" dy="-5.40">−3</tspan></text>
<text x="56.30" y="180.15" font-size="14.7" text-anchor="end">10<tspan font-size="9.8" dx="0.9" dy="-5.40">−4</tspan></text>
<text x="57.30" y="377.20" font-size="14.0" text-anchor="end">0</text>
<text x="57.30" y="347.00" font-size="14.0" text-anchor="end">1</text>
<text x="57.30" y="316.80" font-size="14.0" text-anchor="end">2</text>
<text x="57.30" y="286.60" font-size="14.0" text-anchor="end">3</text>
<text x="57.30" y="256.40" font-size="14.0" text-anchor="end">4</text>
<text x="57.30" y="226.20" font-size="14.0" text-anchor="end">5</text>
<text x="152.10" y="396.40" font-size="14.7" text-anchor="middle">10<tspan font-size="9.8" dx="0.5" dy="-5.40">1</tspan></text>
<text x="289.00" y="396.40" font-size="14.7" text-anchor="middle">10<tspan font-size="9.8" dx="0.5" dy="-5.40">2</tspan></text>
<text x="462.00" y="396.40" font-size="14.7" text-anchor="middle">10<tspan font-size="9.8" dx="0.5" dy="-5.40">1</tspan></text>
<text x="598.90" y="396.40" font-size="14.7" text-anchor="middle">10<tspan font-size="9.8" dx="0.5" dy="-5.40">2</tspan></text>
<text x="42.00" y="12.60" font-size="17.2" text-anchor="start" font-weight="bold">a</text>
<text x="387.30" y="12.60" font-size="17.2" text-anchor="start" font-weight="bold">b</text>
<text x="42.40" y="206.30" font-size="17.2" text-anchor="start" font-weight="bold">c</text>
<text x="387.30" y="206.30" font-size="17.2" text-anchor="start" font-weight="bold">d</text>
<text x="67.00" y="207.90" font-size="14.0" text-anchor="start" >x10<tspan font-size="9.8" dy="-5.0">-3</tspan></text>
<text x="217.80" y="401.60" font-size="14.8" text-anchor="middle" font-style="italic">N</text>
<text x="527.80" y="401.60" font-size="14.8" text-anchor="middle" font-style="italic">N</text>
<text transform="translate(11.7,102.6) rotate(-90)" font-size="14.8" text-anchor="middle">Efficiency, <tspan font-style="italic">η</tspan></text>
<text transform="translate(39.8,294.3) rotate(-90)" font-size="13.5" text-anchor="middle">(<tspan font-style="italic">v̄</tspan>/<tspan font-style="italic">v</tspan><tspan font-size="9.4" dy="2.2">0</tspan><tspan dy="-2.2">)/</tspan><tspan font-style="italic">N</tspan></text>
</svg>
</body></html>
